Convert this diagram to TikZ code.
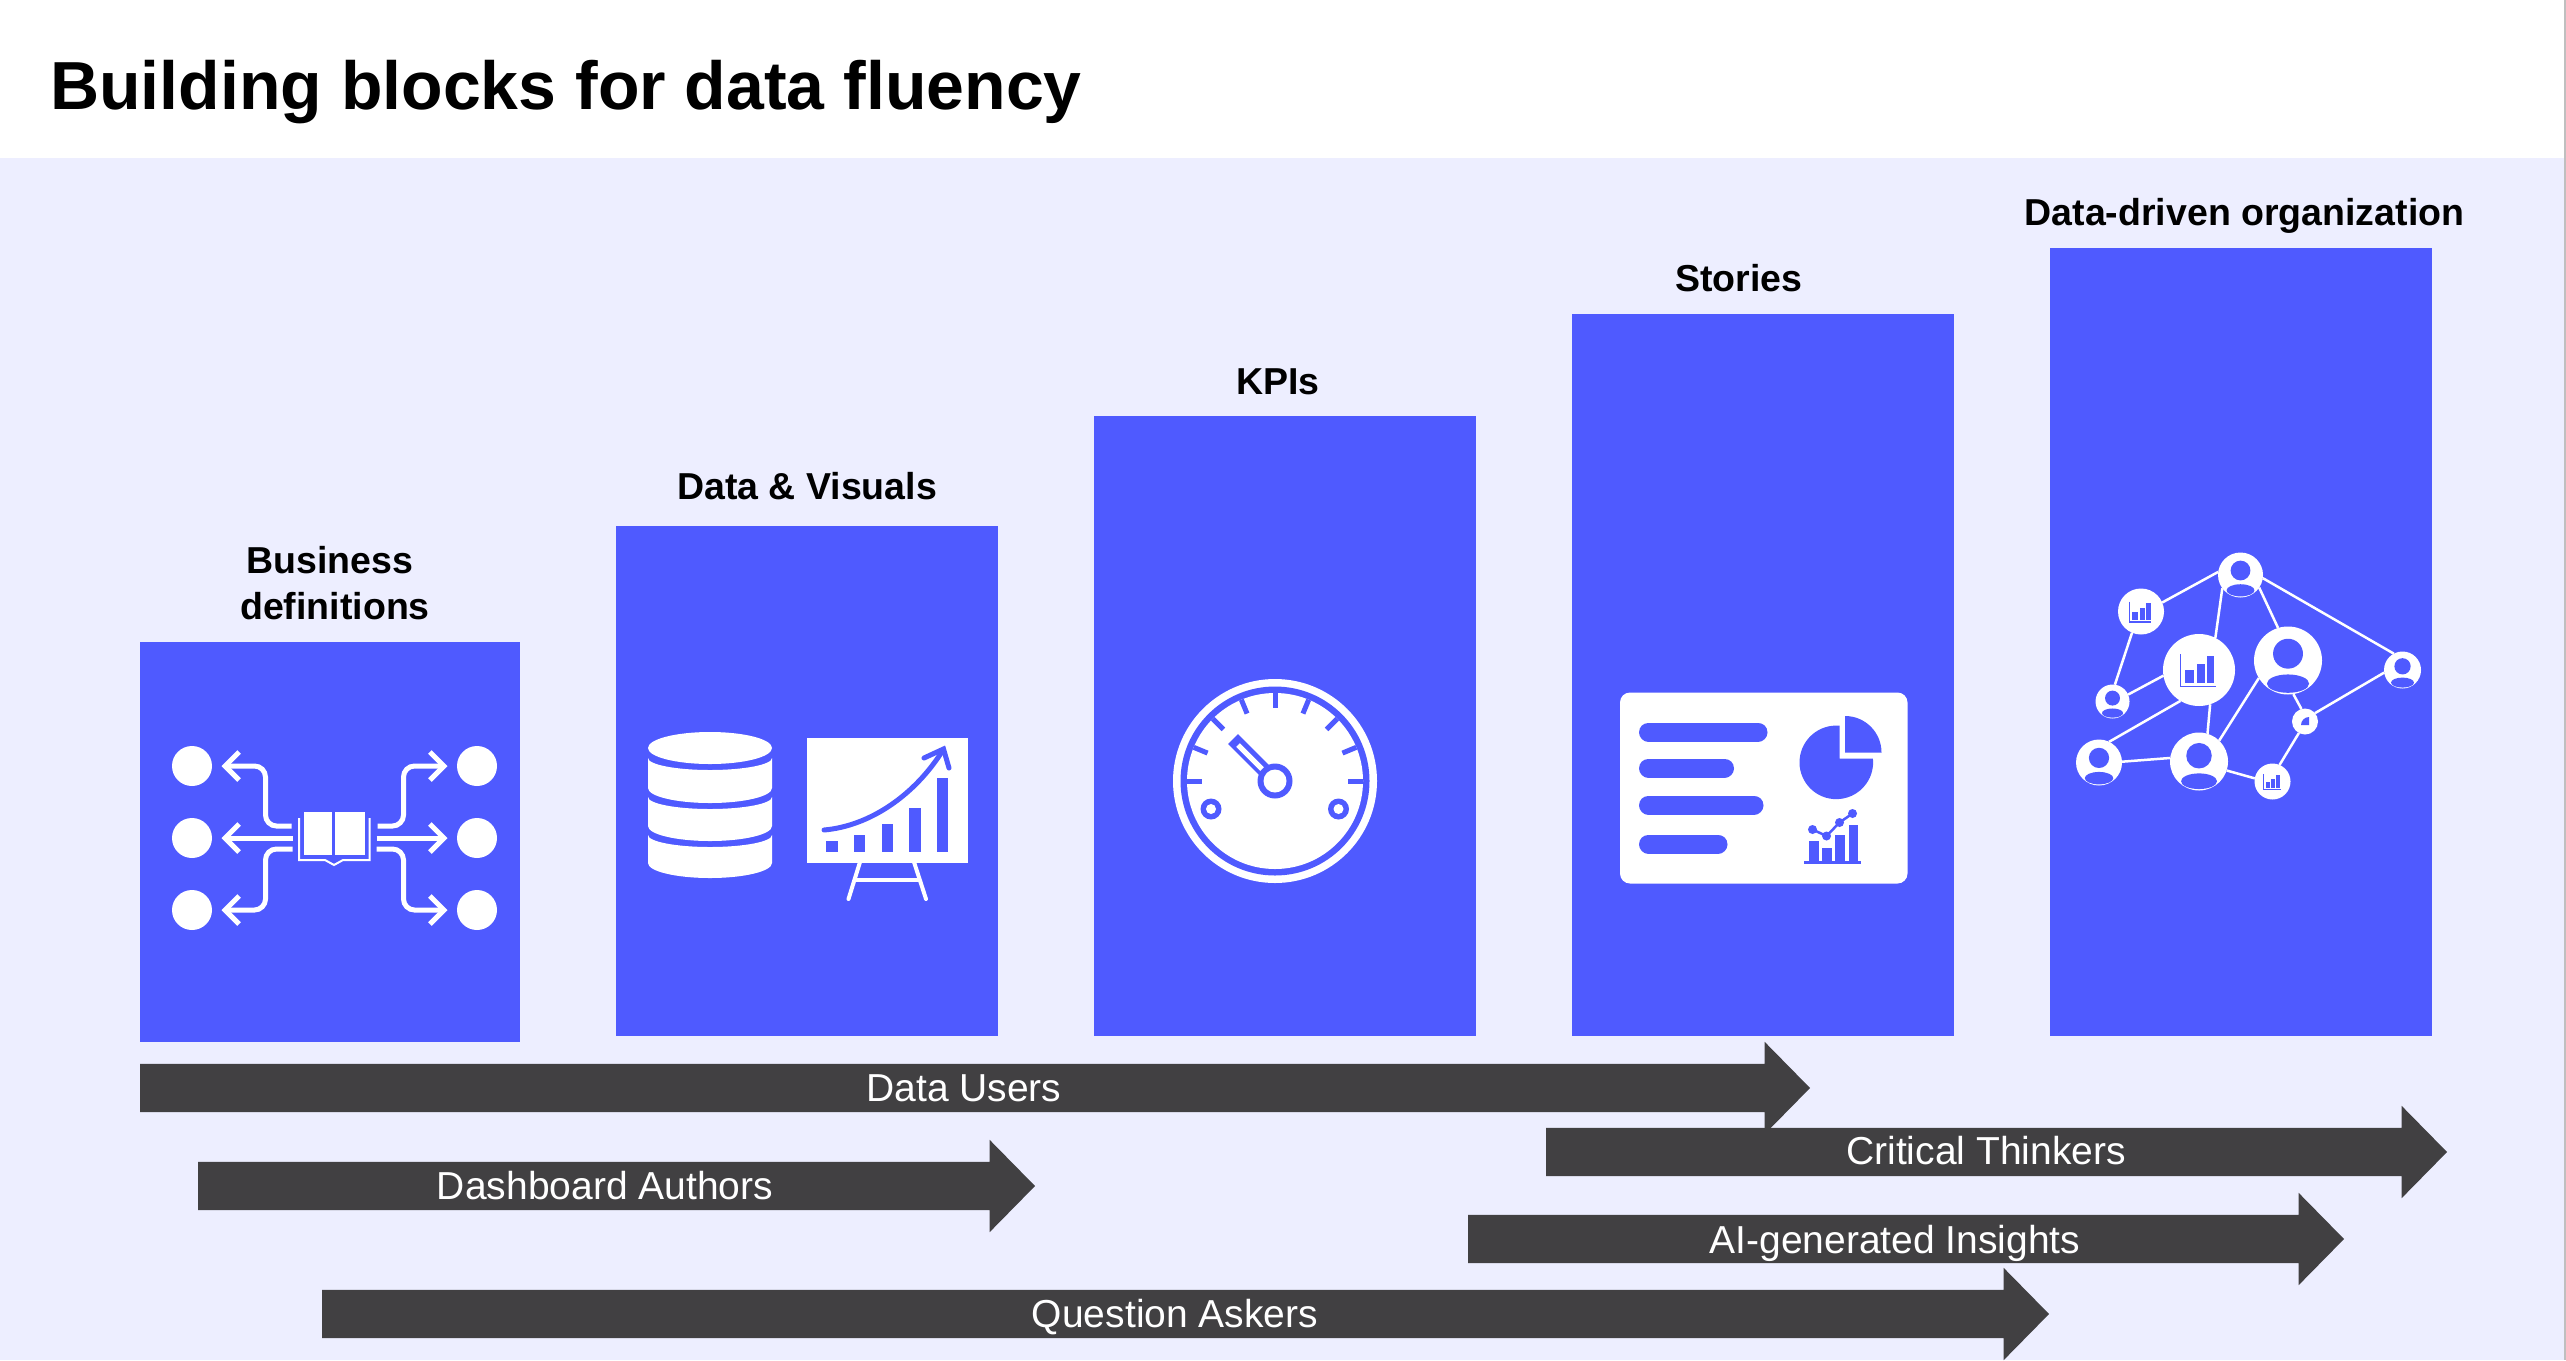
\documentclass[tikz,border=0pt]{standalone}
\usepackage{fontspec}
\setmainfont[Ligatures=CommonOff]{Liberation Sans}
\usepackage{xcolor}
\usetikzlibrary{shapes.arrows, arrows.meta}
\definecolor{pageblue}{HTML}{EDEEFF}
\definecolor{blockblue}{HTML}{4F5AFF}
\definecolor{bardark}{HTML}{414042}

\begin{document}
\begin{tikzpicture}[x=1pt, y=-1pt]
  \tikzstyle{block} = [rectangle, fill=blockblue, inner sep=0pt, outer sep=0pt, minimum width=382pt, anchor=north west]
  \tikzstyle{heading} = [font=\fontsize{37.5}{46}\selectfont\bfseries, inner sep=0pt, anchor=base, align=center]
  \tikzstyle{bar} = [single arrow, fill=bardark, inner xsep=0pt, inner ysep=24pt, outer sep=0pt, anchor=tail, single arrow head extend=22pt, single arrow tip angle=91]
  \tikzstyle{barlabel} = [font=\fontsize{39}{46}\selectfont, text=white, inner sep=0pt, anchor=base]
  \tikzstyle{flow} = [white, line width=5pt, rounded corners=11pt, -{Straight Barb[length=14pt,width=28pt]}]
  \tikzstyle{hub} = [circle, fill=white, inner sep=0pt, outer sep=0pt]
  \tikzstyle{link} = [white, line width=2.5pt]

  \useasboundingbox (0,0) rectangle (2566,1360);
  \fill[white] (0,0) rectangle (2566,158);
  \fill[pageblue] (0,158) rectangle (2566,1360);
  \fill[black!25] (2564,0) rectangle (2566,1360);
  \node[font=\fontsize{68}{80}\selectfont\bfseries, inner sep=0pt, anchor=base west] (title) at (50,109) {Building blocks for data fluency};

  \node[block, minimum width=380pt, minimum height=400pt] (defs) at (140,642) {};
  \node[block, minimum height=510pt] (data) at (616,526) {};
  \node[block, minimum height=620pt] (kpis) at (1094,416) {};
  \node[block, minimum height=722pt] (stories) at (1572,314) {};
  \node[block, minimum height=788pt] (org) at (2050,248) {};

  \node[heading] (defslabel) at (335,619) {Business\kern10pt\\definitions};
  \node[heading] (datalabel) at (807,499) {Data \& Visuals};
  \node[heading] (kpislabel) at (1278,394) {KPIs};
  \node[heading] (storieslabel) at (1739,291) {Stories};
  \node[heading] (orglabel) at (2244.5,225) {Data-driven organization};

  \node[bar, minimum height=1670pt] (users) at (140,1088) {};
  \node[bar, minimum height=837pt] (authors) at (198,1186) {};
  \node[bar, minimum height=1727pt] (askers) at (322,1314) {};
  \node[bar, minimum height=876pt] (insights) at (1468,1239) {};
  \node[bar, minimum height=901pt] (thinkers) at (1546,1152) {};
  \node[barlabel] (userslabel) at (964,1101) {Data Users};
  \node[barlabel] (authorslabel) at (605,1199) {Dashboard Authors};
  \node[barlabel] (askerslabel) at (1175,1327) {Question Askers};
  \node[barlabel] (insightslabel) at (1895,1253) {AI-generated Insights};
  \node[barlabel] (thinkerslabel) at (1986,1164) {Critical Thinkers};

  \foreach \x in {192,477}
    \foreach \y in {766,838,910}
      \fill[white] (\x,\y) circle[radius=20];
  \foreach \side in {1,-1} {
    \begin{scope}[shift={(334.5,0)}, xscale=\side]
      \draw[flow] (-43,826) -- (-69,826) -- (-69,766) -- (-113,766);
      \draw[flow] (-42,838) -- (-113,838);
      \draw[flow] (-42,849) -- (-69,849) -- (-69,910) -- (-113,910);
    \end{scope}
  }
  \fill[white] (304,812) rectangle (331.5,854.5);
  \fill[white] (334.5,812) rectangle (364.5,854.5);
  \draw[white, line width=2pt] (299,818) -- (299,860) -- (325,860) -- (334,865) -- (343,860) -- (369.5,860) -- (369.5,818);

  \fill[white] (710,748) ellipse[x radius=62, y radius=16];
  \foreach \t/\b in {758/788,797/826,835/863}
    \fill[white] (648,\t) arc[start angle=180, end angle=0, x radius=62, y radius=12] -- (772,\b) arc[start angle=0, end angle=180, x radius=62, y radius=15] -- cycle;
  \fill[white] (806.5,738) rectangle (967.5,862.5);
  \foreach \l/\r/\t in {826/838/841,853.5/865/835,881.5/892.5/824,909/920.5/807.5,936.5/948/777.5}
    \fill[blockblue] (\l,\t) rectangle (\r,852);
  \draw[blockblue, line width=5pt, line cap=round] (824,830) .. controls (870,826) and (915,795) .. (943,750);
  \draw[blockblue, line width=5pt, line cap=round] (924,758) -- (943.5,749) -- (949,768);
  \draw[white, line width=4pt, line cap=round] (860,862) -- (848.5,899);
  \draw[white, line width=4pt, line cap=round] (914,862) -- (926,899);
  \draw[white, line width=4pt] (855,880) -- (920,880);

  \fill[white] (1275,781) circle[radius=102];
  \fill[blockblue] (1275,781) circle[radius=94.5];
  \fill[white] (1275,781) circle[radius=88];
  \foreach \a in {0,22.5,...,180}
    \draw[blockblue, line width=5pt] ({1275+88*cos(\a)},{781-88*sin(\a)}) -- ({1275+73*cos(\a)},{781-73*sin(\a)});
  \fill[blockblue] (1275,781) circle[radius=17.5];
  \draw[blockblue, line width=14pt] (1275,781) -- (1233,739);
  \fill[white] (1275,781) circle[radius=11.5];
  \draw[white, line width=5pt] (1238,745) -- (1262,769);
  \foreach \x in {1211,1338.5} {
    \fill[blockblue] (\x,809) circle[radius=10.5];
    \fill[white] (\x,809) circle[radius=5];
  }

  \fill[white, rounded corners=10pt] (1620,692.5) rectangle (1907.5,883.5);
  \foreach \e/\y in {1767.5/732,1734/768,1763.5/805,1727.5/844}
    \draw[blockblue, line width=19pt, line cap=round] (1648.5,\y) -- (\e-9.5,\y);
  \fill[blockblue] (1839.5,758.5) -- (1839.5,725.7) arc[start angle=-85, end angle=-366, radius=36.8] -- cycle;
  \fill[blockblue] (1845,752.5) -- (1845,716) arc[start angle=-90, end angle=0, radius=36.5] -- cycle;
  \foreach \l/\r/\t in {1808.5/1818.5/841,1822/1831.5/848,1835/1844.5/834.5,1848.5/1857.5/824.5}
    \fill[blockblue] (\l,\t) rectangle (\r,862);
  \fill[blockblue] (1804,860.5) rectangle (1861,864);
  \draw[blockblue, line width=2.5pt] (1812.5,829.5) -- (1826.5,836) -- (1839.5,822.5) -- (1852.5,813.5);
  \foreach \x/\y in {1812.5/829.5,1826.5/836,1839.5/822.5,1852.5/813.5}
    \fill[blockblue] (\x,\y) circle[radius=4.5];

  \foreach \n/\x/\y/\r in {topuser/2240.5/575/22.5,leftchart/2141/611.5/23,bigchart/2199/670/36,biguser/2288/660.5/34,rightuser/2402.5/670/18.5,smalluser/2112.5/701.5/17,lowuser/2099/762.5/23,miduser/2199/761.5/29,piehub/2305/721.5/13,lowchart/2272.5/781.5/18}
    \node[hub, minimum size=2*\r] (\n) at (\x,\y) {};
  \draw[link] (topuser.172) -- (leftchart.23);
  \draw[link] (topuser.216) -- (bigchart.63);
  \draw[link] (topuser.326) -- (biguser.107);
  \draw[link] (topuser.352) -- (rightuser.118);
  \draw[link] (leftchart.247) -- (smalluser.82);
  \draw[link] (bigchart.189) -- (smalluser.24);
  \draw[link] (bigchart.239) -- (lowuser.64);
  \draw[link] (bigchart.288) -- (miduser.73);
  \draw[link] (biguser.211) -- (miduser.46);
  \draw[link] (biguser.279) -- (piehub.106);
  \draw[link] (rightuser.188) -- (piehub.40);
  \draw[link] (lowuser.2) -- (miduser.173);
  \draw[link] (miduser.342) -- (lowchart.170);
  \draw[link] (piehub.242) -- (lowchart.67);
  \foreach \x/\y/\r in {2240.5/575/22.5,2288/660.5/34,2402.5/670/18.5,2112.5/701.5/17,2099/762.5/23,2199/761.5/29} {
    \fill[blockblue] (\x,\y-.2*\r) circle[radius=.44*\r];
    \fill[blockblue] (\x,\y+.68*\r) ellipse[x radius=.62*\r, y radius=.27*\r];
  }
  \foreach \x/\y/\s in {2199/670/1,2141/611.5/.62,2272.5/781.5/.48} {
    \begin{scope}[shift={(\x,\y)}, scale=\s]
      \draw[blockblue, line width=1.5pt] (-18.3,-16) -- (-18.3,16.7) -- (16.7,16.7);
      \fill[blockblue] (-14,0) rectangle (-4.7,13.3);
      \fill[blockblue] (-2.3,-6) rectangle (6,13.3);
      \fill[blockblue] (7.7,-14) rectangle (15.3,13.3);
    \end{scope}
  }
  \fill[blockblue] (2309,725) -- (2301,725) arc[start angle=180, end angle=270, radius=8] -- cycle;
\end{tikzpicture}
\end{document}
